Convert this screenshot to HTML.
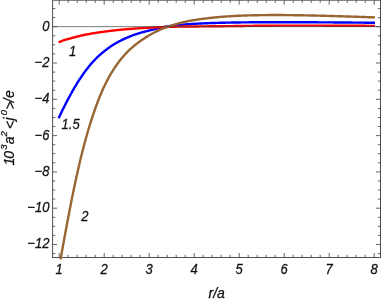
<!DOCTYPE html>
<html><head><meta charset="utf-8"><title>plot</title>
<style>
html,body{margin:0;padding:0;background:#fff;}
body{width:382px;height:300px;overflow:hidden;}
svg{display:block;will-change:transform;}
text{font-family:"Liberation Sans",sans-serif;font-style:italic;fill:#111;stroke:#111;stroke-width:0.25px;}
</style></head><body>
<svg width="382" height="300" viewBox="0 0 382 300">
<rect width="382" height="300" fill="#fff"/>
<path d="M59.2,257.5 v-4.5 M59.2,0.2 v4.5 M68.2,257.5 v-2.7 M68.2,0.2 v2.7 M77.2,257.5 v-2.7 M77.2,0.2 v2.7 M86.2,257.5 v-2.7 M86.2,0.2 v2.7 M95.2,257.5 v-2.7 M95.2,0.2 v2.7 M104.2,257.5 v-4.5 M104.2,0.2 v4.5 M113.2,257.5 v-2.7 M113.2,0.2 v2.7 M122.2,257.5 v-2.7 M122.2,0.2 v2.7 M131.2,257.5 v-2.7 M131.2,0.2 v2.7 M140.2,257.5 v-2.7 M140.2,0.2 v2.7 M149.2,257.5 v-4.5 M149.2,0.2 v4.5 M158.2,257.5 v-2.7 M158.2,0.2 v2.7 M167.2,257.5 v-2.7 M167.2,0.2 v2.7 M176.2,257.5 v-2.7 M176.2,0.2 v2.7 M185.2,257.5 v-2.7 M185.2,0.2 v2.7 M194.2,257.5 v-4.5 M194.2,0.2 v4.5 M203.2,257.5 v-2.7 M203.2,0.2 v2.7 M212.2,257.5 v-2.7 M212.2,0.2 v2.7 M221.2,257.5 v-2.7 M221.2,0.2 v2.7 M230.2,257.5 v-2.7 M230.2,0.2 v2.7 M239.2,257.5 v-4.5 M239.2,0.2 v4.5 M248.2,257.5 v-2.7 M248.2,0.2 v2.7 M257.2,257.5 v-2.7 M257.2,0.2 v2.7 M266.2,257.5 v-2.7 M266.2,0.2 v2.7 M275.2,257.5 v-2.7 M275.2,0.2 v2.7 M284.2,257.5 v-4.5 M284.2,0.2 v4.5 M293.2,257.5 v-2.7 M293.2,0.2 v2.7 M302.2,257.5 v-2.7 M302.2,0.2 v2.7 M311.2,257.5 v-2.7 M311.2,0.2 v2.7 M320.2,257.5 v-2.7 M320.2,0.2 v2.7 M329.2,257.5 v-4.5 M329.2,0.2 v4.5 M338.2,257.5 v-2.7 M338.2,0.2 v2.7 M347.2,257.5 v-2.7 M347.2,0.2 v2.7 M356.2,257.5 v-2.7 M356.2,0.2 v2.7 M365.2,257.5 v-2.7 M365.2,0.2 v2.7 M374.2,257.5 v-4.5 M374.2,0.2 v4.5 M52.6,8.6 h2.7 M380.5,8.6 h-2.7 M52.6,17.6 h2.7 M380.5,17.6 h-2.7 M52.6,26.7 h4.5 M380.5,26.7 h-4.5 M52.6,35.8 h2.7 M380.5,35.8 h-2.7 M52.6,44.8 h2.7 M380.5,44.8 h-2.7 M52.6,53.9 h2.7 M380.5,53.9 h-2.7 M52.6,63.0 h4.5 M380.5,63.0 h-4.5 M52.6,72.1 h2.7 M380.5,72.1 h-2.7 M52.6,81.1 h2.7 M380.5,81.1 h-2.7 M52.6,90.2 h2.7 M380.5,90.2 h-2.7 M52.6,99.3 h4.5 M380.5,99.3 h-4.5 M52.6,108.4 h2.7 M380.5,108.4 h-2.7 M52.6,117.5 h2.7 M380.5,117.5 h-2.7 M52.6,126.5 h2.7 M380.5,126.5 h-2.7 M52.6,135.6 h4.5 M380.5,135.6 h-4.5 M52.6,144.7 h2.7 M380.5,144.7 h-2.7 M52.6,153.7 h2.7 M380.5,153.7 h-2.7 M52.6,162.8 h2.7 M380.5,162.8 h-2.7 M52.6,171.9 h4.5 M380.5,171.9 h-4.5 M52.6,181.0 h2.7 M380.5,181.0 h-2.7 M52.6,190.0 h2.7 M380.5,190.0 h-2.7 M52.6,199.1 h2.7 M380.5,199.1 h-2.7 M52.6,208.2 h4.5 M380.5,208.2 h-4.5 M52.6,217.3 h2.7 M380.5,217.3 h-2.7 M52.6,226.3 h2.7 M380.5,226.3 h-2.7 M52.6,235.4 h2.7 M380.5,235.4 h-2.7 M52.6,244.5 h4.5 M380.5,244.5 h-4.5 M52.6,253.6 h2.7 M380.5,253.6 h-2.7" stroke="#666" stroke-width="1" fill="none"/>
<rect x="52.6" y="0.2" width="327.9" height="257.3" fill="none" stroke="#505050" stroke-width="1"/>
<g fill="none" stroke-linejoin="round" stroke-linecap="butt" stroke-width="2.4">
<path d="M58.60,118.31 L59.39,116.59 L60.19,114.90 L60.98,113.23 L61.77,111.58 L62.56,109.96 L63.36,108.35 L64.15,106.77 L64.94,105.21 L65.74,103.67 L66.53,102.15 L67.32,100.64 L68.12,99.15 L68.91,97.67 L69.70,96.20 L70.49,94.74 L71.29,93.29 L72.08,91.86 L72.87,90.45 L73.67,89.07 L74.46,87.70 L75.25,86.36 L76.05,85.03 L76.84,83.73 L77.63,82.45 L78.42,81.19 L79.22,79.95 L80.01,78.73 L80.80,77.54 L81.60,76.36 L82.39,75.21 L83.18,74.08 L83.98,72.96 L84.77,71.87 L85.56,70.80 L86.35,69.74 L87.15,68.71 L87.94,67.70 L88.73,66.70 L89.53,65.73 L90.32,64.78 L91.11,63.86 L91.91,62.95 L92.70,62.07 L93.49,61.21 L94.28,60.38 L95.08,59.56 L95.87,58.75 L96.66,57.97 L97.46,57.20 L98.25,56.45 L99.04,55.71 L99.84,54.98 L100.63,54.27 L101.42,53.58 L102.21,52.90 L103.01,52.23 L103.80,51.58 L104.59,50.95 L105.39,50.32 L106.18,49.72 L106.97,49.12 L107.76,48.54 L108.56,47.97 L109.35,47.41 L110.14,46.86 L110.94,46.33 L111.73,45.80 L112.52,45.29 L113.32,44.78 L114.11,44.29 L114.90,43.81 L115.69,43.33 L116.49,42.87 L117.28,42.42 L118.07,41.98 L118.87,41.55 L119.66,41.13 L120.45,40.72 L121.25,40.32 L122.04,39.93 L122.83,39.55 L123.62,39.18 L124.42,38.82 L125.21,38.46 L126.00,38.11 L126.80,37.77 L127.59,37.43 L128.38,37.10 L129.18,36.77 L129.97,36.45 L130.76,36.13 L131.55,35.81 L132.35,35.50 L133.14,35.20 L133.93,34.91 L134.73,34.62 L135.52,34.34 L136.31,34.07 L137.11,33.81 L137.90,33.55 L138.69,33.31 L139.48,33.07 L140.28,32.84 L141.07,32.62 L141.86,32.41 L142.66,32.20 L143.45,31.99 L144.24,31.79 L145.04,31.59 L145.83,31.39 L146.62,31.19 L147.41,30.99 L148.21,30.78 L149.00,30.58 L149.79,30.37 L150.59,30.16 L151.38,29.96 L152.17,29.76 L152.96,29.56 L153.76,29.36 L154.55,29.17 L155.34,28.97 L156.14,28.78 L156.93,28.59 L157.72,28.40 L158.52,28.22 L159.31,28.04 L160.10,27.87 L160.89,27.70 L161.69,27.54 L162.48,27.37 L163.27,27.21 L164.07,27.06 L164.86,26.90 L165.65,26.75 L166.45,26.61 L167.24,26.47 L168.03,26.34 L168.82,26.22 L169.62,26.10 L170.41,25.99 L171.20,25.89 L172.00,25.78 L172.79,25.68 L173.58,25.59 L174.38,25.49 L175.17,25.40 L175.96,25.31 L176.75,25.22 L177.55,25.13 L178.34,25.05 L179.13,24.97 L179.93,24.89 L180.72,24.82 L181.51,24.75 L182.31,24.68 L183.10,24.61 L183.89,24.54 L184.68,24.48 L185.48,24.42 L186.27,24.36 L187.06,24.30 L187.86,24.25 L188.65,24.19 L189.44,24.14 L190.24,24.09 L191.03,24.04 L191.82,23.99 L192.61,23.94 L193.41,23.89 L194.20,23.84 L194.99,23.80 L195.79,23.75 L196.58,23.71 L197.37,23.67 L198.16,23.63 L198.96,23.59 L199.75,23.55 L200.54,23.51 L201.34,23.47 L202.13,23.44 L202.92,23.40 L203.72,23.37 L204.51,23.33 L205.30,23.30 L206.09,23.27 L206.89,23.23 L207.68,23.20 L208.47,23.17 L209.27,23.14 L210.06,23.12 L210.85,23.09 L211.65,23.06 L212.44,23.03 L213.23,23.01 L214.02,22.98 L214.82,22.96 L215.61,22.93 L216.40,22.91 L217.20,22.89 L217.99,22.86 L218.78,22.84 L219.58,22.82 L220.37,22.80 L221.16,22.78 L221.95,22.76 L222.75,22.74 L223.54,22.72 L224.33,22.70 L225.13,22.69 L225.92,22.67 L226.71,22.65 L227.51,22.64 L228.30,22.62 L229.09,22.61 L229.88,22.59 L230.68,22.58 L231.47,22.56 L232.26,22.55 L233.06,22.53 L233.85,22.52 L234.64,22.51 L235.44,22.49 L236.23,22.48 L237.02,22.47 L237.81,22.46 L238.61,22.45 L239.40,22.44 L240.19,22.43 L240.99,22.42 L241.78,22.41 L242.57,22.40 L243.36,22.39 L244.16,22.38 L244.95,22.37 L245.74,22.36 L246.54,22.35 L247.33,22.35 L248.12,22.34 L248.92,22.33 L249.71,22.32 L250.50,22.32 L251.29,22.31 L252.09,22.30 L252.88,22.30 L253.67,22.29 L254.47,22.29 L255.26,22.28 L256.05,22.28 L256.85,22.27 L257.64,22.27 L258.43,22.26 L259.22,22.26 L260.02,22.25 L260.81,22.25 L261.60,22.25 L262.40,22.24 L263.19,22.24 L263.98,22.24 L264.78,22.23 L265.57,22.23 L266.36,22.23 L267.15,22.22 L267.95,22.22 L268.74,22.22 L269.53,22.22 L270.33,22.22 L271.12,22.21 L271.91,22.21 L272.71,22.21 L273.50,22.21 L274.29,22.21 L275.08,22.21 L275.88,22.21 L276.67,22.21 L277.46,22.21 L278.26,22.21 L279.05,22.21 L279.84,22.21 L280.64,22.21 L281.43,22.21 L282.22,22.21 L283.01,22.21 L283.81,22.21 L284.60,22.21 L285.39,22.21 L286.19,22.21 L286.98,22.21 L287.77,22.21 L288.56,22.21 L289.36,22.22 L290.15,22.22 L290.94,22.22 L291.74,22.22 L292.53,22.22 L293.32,22.22 L294.12,22.23 L294.91,22.23 L295.70,22.23 L296.49,22.23 L297.29,22.23 L298.08,22.24 L298.87,22.24 L299.67,22.24 L300.46,22.25 L301.25,22.25 L302.05,22.25 L302.84,22.25 L303.63,22.26 L304.42,22.26 L305.22,22.26 L306.01,22.27 L306.80,22.27 L307.60,22.27 L308.39,22.28 L309.18,22.28 L309.98,22.29 L310.77,22.29 L311.56,22.29 L312.35,22.30 L313.15,22.30 L313.94,22.31 L314.73,22.31 L315.53,22.31 L316.32,22.32 L317.11,22.32 L317.91,22.33 L318.70,22.33 L319.49,22.34 L320.28,22.34 L321.08,22.35 L321.87,22.35 L322.66,22.36 L323.46,22.36 L324.25,22.37 L325.04,22.37 L325.84,22.38 L326.63,22.38 L327.42,22.39 L328.21,22.39 L329.01,22.40 L329.80,22.40 L330.59,22.41 L331.39,22.41 L332.18,22.42 L332.97,22.42 L333.76,22.43 L334.56,22.43 L335.35,22.44 L336.14,22.45 L336.94,22.45 L337.73,22.46 L338.52,22.46 L339.32,22.47 L340.11,22.48 L340.90,22.48 L341.69,22.49 L342.49,22.49 L343.28,22.50 L344.07,22.51 L344.87,22.51 L345.66,22.52 L346.45,22.53 L347.25,22.53 L348.04,22.54 L348.83,22.54 L349.62,22.55 L350.42,22.56 L351.21,22.56 L352.00,22.57 L352.80,22.58 L353.59,22.58 L354.38,22.59 L355.18,22.60 L355.97,22.60 L356.76,22.61 L357.55,22.62 L358.35,22.62 L359.14,22.63 L359.93,22.64 L360.73,22.65 L361.52,22.65 L362.31,22.66 L363.11,22.67 L363.90,22.67 L364.69,22.68 L365.48,22.69 L366.28,22.69 L367.07,22.70 L367.86,22.71 L368.66,22.72 L369.45,22.72 L370.24,22.73 L371.04,22.74 L371.83,22.75 L372.62,22.75 L373.41,22.76 L374.21,22.77 L375.00,22.77" stroke="#0000ff"/>
<path d="M58.60,42.40 L59.39,42.02 L60.19,41.66 L60.98,41.33 L61.77,41.02 L62.56,40.72 L63.36,40.45 L64.15,40.18 L64.94,39.93 L65.74,39.69 L66.53,39.46 L67.32,39.23 L68.12,39.01 L68.91,38.80 L69.70,38.58 L70.49,38.37 L71.29,38.15 L72.08,37.94 L72.87,37.72 L73.67,37.51 L74.46,37.30 L75.25,37.09 L76.05,36.88 L76.84,36.67 L77.63,36.46 L78.42,36.26 L79.22,36.06 L80.01,35.86 L80.80,35.67 L81.60,35.49 L82.39,35.30 L83.18,35.13 L83.98,34.96 L84.77,34.80 L85.56,34.64 L86.35,34.50 L87.15,34.35 L87.94,34.21 L88.73,34.07 L89.53,33.93 L90.32,33.79 L91.11,33.66 L91.91,33.53 L92.70,33.39 L93.49,33.26 L94.28,33.14 L95.08,33.01 L95.87,32.88 L96.66,32.76 L97.46,32.64 L98.25,32.52 L99.04,32.40 L99.84,32.28 L100.63,32.17 L101.42,32.05 L102.21,31.94 L103.01,31.83 L103.80,31.72 L104.59,31.61 L105.39,31.51 L106.18,31.40 L106.97,31.30 L107.76,31.20 L108.56,31.10 L109.35,31.00 L110.14,30.90 L110.94,30.81 L111.73,30.71 L112.52,30.62 L113.32,30.53 L114.11,30.44 L114.90,30.35 L115.69,30.26 L116.49,30.18 L117.28,30.09 L118.07,30.01 L118.87,29.93 L119.66,29.85 L120.45,29.77 L121.25,29.69 L122.04,29.62 L122.83,29.54 L123.62,29.47 L124.42,29.40 L125.21,29.33 L126.00,29.26 L126.80,29.19 L127.59,29.12 L128.38,29.06 L129.18,28.99 L129.97,28.93 L130.76,28.86 L131.55,28.80 L132.35,28.74 L133.14,28.68 L133.93,28.63 L134.73,28.57 L135.52,28.51 L136.31,28.46 L137.11,28.41 L137.90,28.35 L138.69,28.30 L139.48,28.25 L140.28,28.20 L141.07,28.15 L141.86,28.10 L142.66,28.06 L143.45,28.01 L144.24,27.96 L145.04,27.92 L145.83,27.88 L146.62,27.83 L147.41,27.79 L148.21,27.75 L149.00,27.71 L149.79,27.67 L150.59,27.63 L151.38,27.59 L152.17,27.56 L152.96,27.52 L153.76,27.48 L154.55,27.44 L155.34,27.41 L156.14,27.37 L156.93,27.34 L157.72,27.30 L158.52,27.27 L159.31,27.23 L160.10,27.20 L160.89,27.17 L161.69,27.13 L162.48,27.10 L163.27,27.07 L164.07,27.04 L164.86,27.01 L165.65,26.98 L166.45,26.95 L167.24,26.93 L168.03,26.90 L168.82,26.88 L169.62,26.85 L170.41,26.83 L171.20,26.80 L172.00,26.78 L172.79,26.76 L173.58,26.74 L174.38,26.72 L175.17,26.70 L175.96,26.69 L176.75,26.67 L177.55,26.65 L178.34,26.64 L179.13,26.62 L179.93,26.60 L180.72,26.59 L181.51,26.58 L182.31,26.56 L183.10,26.55 L183.89,26.54 L184.68,26.52 L185.48,26.51 L186.27,26.50 L187.06,26.49 L187.86,26.49 L188.65,26.48 L189.44,26.48 L190.24,26.47 L191.03,26.47 L191.82,26.47 L192.61,26.47 L193.41,26.46 L194.20,26.46 L194.99,26.46 L195.79,26.46 L196.58,26.45 L197.37,26.45 L198.16,26.44 L198.96,26.43 L199.75,26.42 L200.54,26.41 L201.34,26.40 L202.13,26.39 L202.92,26.38 L203.72,26.37 L204.51,26.36 L205.30,26.35 L206.09,26.34 L206.89,26.33 L207.68,26.33 L208.47,26.32 L209.27,26.31 L210.06,26.30 L210.85,26.29 L211.65,26.29 L212.44,26.28 L213.23,26.27 L214.02,26.26 L214.82,26.26 L215.61,26.25 L216.40,26.24 L217.20,26.24 L217.99,26.23 L218.78,26.22 L219.58,26.22 L220.37,26.21 L221.16,26.21 L221.95,26.20 L222.75,26.19 L223.54,26.18 L224.33,26.18 L225.13,26.17 L225.92,26.16 L226.71,26.15 L227.51,26.14 L228.30,26.14 L229.09,26.13 L229.88,26.12 L230.68,26.11 L231.47,26.10 L232.26,26.09 L233.06,26.08 L233.85,26.07 L234.64,26.06 L235.44,26.05 L236.23,26.04 L237.02,26.03 L237.81,26.02 L238.61,26.01 L239.40,26.00 L240.19,25.99 L240.99,25.98 L241.78,25.96 L242.57,25.95 L243.36,25.94 L244.16,25.93 L244.95,25.92 L245.74,25.91 L246.54,25.90 L247.33,25.89 L248.12,25.88 L248.92,25.87 L249.71,25.87 L250.50,25.86 L251.29,25.85 L252.09,25.84 L252.88,25.83 L253.67,25.82 L254.47,25.81 L255.26,25.81 L256.05,25.80 L256.85,25.79 L257.64,25.79 L258.43,25.78 L259.22,25.77 L260.02,25.77 L260.81,25.76 L261.60,25.76 L262.40,25.75 L263.19,25.75 L263.98,25.74 L264.78,25.74 L265.57,25.73 L266.36,25.73 L267.15,25.72 L267.95,25.71 L268.74,25.71 L269.53,25.70 L270.33,25.70 L271.12,25.69 L271.91,25.69 L272.71,25.68 L273.50,25.68 L274.29,25.67 L275.08,25.67 L275.88,25.67 L276.67,25.66 L277.46,25.66 L278.26,25.65 L279.05,25.65 L279.84,25.64 L280.64,25.64 L281.43,25.64 L282.22,25.63 L283.01,25.63 L283.81,25.63 L284.60,25.62 L285.39,25.62 L286.19,25.62 L286.98,25.62 L287.77,25.61 L288.56,25.61 L289.36,25.61 L290.15,25.61 L290.94,25.61 L291.74,25.61 L292.53,25.60 L293.32,25.60 L294.12,25.60 L294.91,25.60 L295.70,25.60 L296.49,25.60 L297.29,25.60 L298.08,25.61 L298.87,25.61 L299.67,25.61 L300.46,25.61 L301.25,25.61 L302.05,25.61 L302.84,25.62 L303.63,25.62 L304.42,25.62 L305.22,25.62 L306.01,25.62 L306.80,25.63 L307.60,25.63 L308.39,25.63 L309.18,25.63 L309.98,25.63 L310.77,25.64 L311.56,25.64 L312.35,25.64 L313.15,25.64 L313.94,25.65 L314.73,25.65 L315.53,25.65 L316.32,25.65 L317.11,25.65 L317.91,25.66 L318.70,25.66 L319.49,25.66 L320.28,25.66 L321.08,25.67 L321.87,25.67 L322.66,25.67 L323.46,25.67 L324.25,25.68 L325.04,25.68 L325.84,25.68 L326.63,25.68 L327.42,25.69 L328.21,25.69 L329.01,25.69 L329.80,25.70 L330.59,25.70 L331.39,25.70 L332.18,25.70 L332.97,25.71 L333.76,25.71 L334.56,25.71 L335.35,25.71 L336.14,25.72 L336.94,25.72 L337.73,25.72 L338.52,25.73 L339.32,25.73 L340.11,25.73 L340.90,25.73 L341.69,25.74 L342.49,25.74 L343.28,25.74 L344.07,25.75 L344.87,25.75 L345.66,25.75 L346.45,25.75 L347.25,25.76 L348.04,25.76 L348.83,25.76 L349.62,25.77 L350.42,25.77 L351.21,25.77 L352.00,25.77 L352.80,25.78 L353.59,25.78 L354.38,25.78 L355.18,25.79 L355.97,25.79 L356.76,25.79 L357.55,25.79 L358.35,25.80 L359.14,25.80 L359.93,25.80 L360.73,25.81 L361.52,25.81 L362.31,25.81 L363.11,25.82 L363.90,25.82 L364.69,25.82 L365.48,25.82 L366.28,25.83 L367.07,25.83 L367.86,25.83 L368.66,25.84 L369.45,25.84 L370.24,25.84 L371.04,25.85 L371.83,25.85 L372.62,25.85 L373.41,25.85 L374.21,25.86 L375.00,25.86" stroke="#ff0000"/>
<path d="M60.54,259.40 L60.98,256.98 L61.77,252.60 L62.56,248.21 L63.36,243.83 L64.15,239.48 L64.94,235.14 L65.74,230.83 L66.53,226.55 L67.32,222.31 L68.12,218.10 L68.91,213.94 L69.70,209.83 L70.49,205.76 L71.29,201.75 L72.08,197.78 L72.87,193.88 L73.67,190.02 L74.46,186.23 L75.25,182.49 L76.05,178.82 L76.84,175.20 L77.63,171.65 L78.42,168.15 L79.22,164.72 L80.01,161.35 L80.80,158.05 L81.60,154.81 L82.39,151.64 L83.18,148.54 L83.98,145.50 L84.77,142.52 L85.56,139.60 L86.35,136.75 L87.15,133.95 L87.94,131.21 L88.73,128.53 L89.53,125.91 L90.32,123.33 L91.11,120.81 L91.91,118.34 L92.70,115.92 L93.49,113.55 L94.28,111.24 L95.08,108.98 L95.87,106.76 L96.66,104.60 L97.46,102.49 L98.25,100.43 L99.04,98.42 L99.84,96.45 L100.63,94.54 L101.42,92.67 L102.21,90.84 L103.01,89.06 L103.80,87.33 L104.59,85.64 L105.39,83.99 L106.18,82.40 L106.97,80.85 L107.76,79.34 L108.56,77.87 L109.35,76.45 L110.14,75.06 L110.94,73.71 L111.73,72.39 L112.52,71.10 L113.32,69.85 L114.11,68.63 L114.90,67.44 L115.69,66.27 L116.49,65.13 L117.28,64.01 L118.07,62.92 L118.87,61.86 L119.66,60.82 L120.45,59.81 L121.25,58.82 L122.04,57.86 L122.83,56.92 L123.62,56.00 L124.42,55.10 L125.21,54.23 L126.00,53.38 L126.80,52.55 L127.59,51.75 L128.38,50.96 L129.18,50.20 L129.97,49.45 L130.76,48.73 L131.55,48.02 L132.35,47.33 L133.14,46.66 L133.93,46.00 L134.73,45.35 L135.52,44.71 L136.31,44.08 L137.11,43.46 L137.90,42.85 L138.69,42.25 L139.48,41.67 L140.28,41.09 L141.07,40.53 L141.86,39.97 L142.66,39.43 L143.45,38.90 L144.24,38.38 L145.04,37.87 L145.83,37.37 L146.62,36.88 L147.41,36.40 L148.21,35.92 L149.00,35.44 L149.79,34.98 L150.59,34.52 L151.38,34.07 L152.17,33.64 L152.96,33.21 L153.76,32.79 L154.55,32.38 L155.34,31.98 L156.14,31.59 L156.93,31.20 L157.72,30.83 L158.52,30.46 L159.31,30.10 L160.10,29.75 L160.89,29.41 L161.69,29.08 L162.48,28.75 L163.27,28.44 L164.07,28.13 L164.86,27.82 L165.65,27.52 L166.45,27.23 L167.24,26.94 L168.03,26.66 L168.82,26.38 L169.62,26.11 L170.41,25.84 L171.20,25.58 L172.00,25.32 L172.79,25.06 L173.58,24.82 L174.38,24.58 L175.17,24.34 L175.96,24.11 L176.75,23.89 L177.55,23.67 L178.34,23.46 L179.13,23.25 L179.93,23.04 L180.72,22.84 L181.51,22.65 L182.31,22.45 L183.10,22.27 L183.89,22.08 L184.68,21.90 L185.48,21.73 L186.27,21.56 L187.06,21.39 L187.86,21.23 L188.65,21.07 L189.44,20.92 L190.24,20.77 L191.03,20.63 L191.82,20.49 L192.61,20.35 L193.41,20.22 L194.20,20.09 L194.99,19.96 L195.79,19.83 L196.58,19.71 L197.37,19.59 L198.16,19.47 L198.96,19.35 L199.75,19.24 L200.54,19.13 L201.34,19.02 L202.13,18.92 L202.92,18.81 L203.72,18.71 L204.51,18.61 L205.30,18.51 L206.09,18.42 L206.89,18.32 L207.68,18.23 L208.47,18.14 L209.27,18.05 L210.06,17.96 L210.85,17.88 L211.65,17.79 L212.44,17.71 L213.23,17.63 L214.02,17.55 L214.82,17.47 L215.61,17.39 L216.40,17.31 L217.20,17.24 L217.99,17.16 L218.78,17.09 L219.58,17.02 L220.37,16.95 L221.16,16.88 L221.95,16.82 L222.75,16.75 L223.54,16.69 L224.33,16.63 L225.13,16.56 L225.92,16.50 L226.71,16.45 L227.51,16.39 L228.30,16.33 L229.09,16.28 L229.88,16.23 L230.68,16.18 L231.47,16.13 L232.26,16.08 L233.06,16.03 L233.85,15.99 L234.64,15.95 L235.44,15.90 L236.23,15.86 L237.02,15.82 L237.81,15.79 L238.61,15.75 L239.40,15.72 L240.19,15.68 L240.99,15.65 L241.78,15.62 L242.57,15.59 L243.36,15.56 L244.16,15.54 L244.95,15.51 L245.74,15.48 L246.54,15.46 L247.33,15.43 L248.12,15.41 L248.92,15.39 L249.71,15.37 L250.50,15.35 L251.29,15.33 L252.09,15.31 L252.88,15.29 L253.67,15.27 L254.47,15.25 L255.26,15.24 L256.05,15.22 L256.85,15.21 L257.64,15.19 L258.43,15.18 L259.22,15.17 L260.02,15.15 L260.81,15.14 L261.60,15.13 L262.40,15.12 L263.19,15.11 L263.98,15.10 L264.78,15.10 L265.57,15.09 L266.36,15.08 L267.15,15.08 L267.95,15.07 L268.74,15.07 L269.53,15.06 L270.33,15.06 L271.12,15.05 L271.91,15.05 L272.71,15.05 L273.50,15.05 L274.29,15.05 L275.08,15.05 L275.88,15.05 L276.67,15.05 L277.46,15.05 L278.26,15.05 L279.05,15.05 L279.84,15.05 L280.64,15.06 L281.43,15.06 L282.22,15.07 L283.01,15.07 L283.81,15.07 L284.60,15.08 L285.39,15.09 L286.19,15.09 L286.98,15.10 L287.77,15.11 L288.56,15.11 L289.36,15.12 L290.15,15.13 L290.94,15.14 L291.74,15.15 L292.53,15.16 L293.32,15.17 L294.12,15.18 L294.91,15.19 L295.70,15.20 L296.49,15.21 L297.29,15.22 L298.08,15.23 L298.87,15.25 L299.67,15.26 L300.46,15.27 L301.25,15.28 L302.05,15.30 L302.84,15.31 L303.63,15.33 L304.42,15.34 L305.22,15.36 L306.01,15.37 L306.80,15.39 L307.60,15.40 L308.39,15.42 L309.18,15.43 L309.98,15.45 L310.77,15.47 L311.56,15.48 L312.35,15.50 L313.15,15.52 L313.94,15.54 L314.73,15.56 L315.53,15.57 L316.32,15.59 L317.11,15.61 L317.91,15.63 L318.70,15.65 L319.49,15.67 L320.28,15.69 L321.08,15.71 L321.87,15.73 L322.66,15.75 L323.46,15.77 L324.25,15.79 L325.04,15.81 L325.84,15.83 L326.63,15.85 L327.42,15.88 L328.21,15.90 L329.01,15.92 L329.80,15.94 L330.59,15.96 L331.39,15.99 L332.18,16.01 L332.97,16.03 L333.76,16.06 L334.56,16.08 L335.35,16.10 L336.14,16.13 L336.94,16.15 L337.73,16.17 L338.52,16.20 L339.32,16.22 L340.11,16.24 L340.90,16.27 L341.69,16.29 L342.49,16.32 L343.28,16.34 L344.07,16.37 L344.87,16.39 L345.66,16.42 L346.45,16.44 L347.25,16.47 L348.04,16.49 L348.83,16.52 L349.62,16.54 L350.42,16.57 L351.21,16.60 L352.00,16.62 L352.80,16.65 L353.59,16.67 L354.38,16.70 L355.18,16.73 L355.97,16.75 L356.76,16.78 L357.55,16.81 L358.35,16.83 L359.14,16.86 L359.93,16.89 L360.73,16.91 L361.52,16.94 L362.31,16.97 L363.11,16.99 L363.90,17.02 L364.69,17.05 L365.48,17.07 L366.28,17.10 L367.07,17.13 L367.86,17.16 L368.66,17.18 L369.45,17.21 L370.24,17.24 L371.04,17.27 L371.83,17.29 L372.62,17.32 L373.41,17.35 L374.21,17.38 L375.00,17.41" stroke="#996633"/>
</g>
<path d="M52.6,26.65 H380.5" stroke="#444" stroke-opacity="0.7" stroke-width="1" fill="none"/>
<g font-size="13"><text transform="translate(59.2,273.5) scale(1,1.055)" text-anchor="middle">1</text><text transform="translate(104.2,273.5) scale(1,1.055)" text-anchor="middle">2</text><text transform="translate(149.2,273.5) scale(1,1.055)" text-anchor="middle">3</text><text transform="translate(194.2,273.5) scale(1,1.055)" text-anchor="middle">4</text><text transform="translate(239.2,273.5) scale(1,1.055)" text-anchor="middle">5</text><text transform="translate(284.2,273.5) scale(1,1.055)" text-anchor="middle">6</text><text transform="translate(329.2,273.5) scale(1,1.055)" text-anchor="middle">7</text><text transform="translate(374.2,273.5) scale(1,1.055)" text-anchor="middle">8</text><text transform="translate(49.4,30.6) scale(1,1.055)" text-anchor="end">0</text><text transform="translate(49.4,67.0) scale(1,1.055)" text-anchor="end">−2</text><text transform="translate(49.4,103.2) scale(1,1.055)" text-anchor="end">−4</text><text transform="translate(49.4,139.5) scale(1,1.055)" text-anchor="end">−6</text><text transform="translate(49.4,175.8) scale(1,1.055)" text-anchor="end">−8</text><text transform="translate(49.4,212.1) scale(1,1.055)" text-anchor="end">−10</text><text transform="translate(49.4,248.4) scale(1,1.055)" text-anchor="end">−12</text>
<text transform="translate(69.0,55.5) scale(1,1.055)">1</text>
<text transform="translate(61.6,128.5) scale(1,1.055)">1.5</text>
<text transform="translate(81.3,221.1) scale(1,1.055)">2</text>
</g>
<text x="208.5" y="298.0" font-size="14">r/a</text>
<g transform="translate(13.8,165.05) rotate(-90)" font-size="14">
<text x="-0.5" y="0">1</text><text x="6.4" y="0">0</text><text x="15.25" y="-6.5" font-size="9.5">3</text>
<text x="20.9" y="0">a</text><text x="28.5" y="-6.5" font-size="9.5">2</text>
<text x="35.95" y="0.9">&lt;</text><text x="44.6" y="0">j</text><text x="49.75" y="-6.5" font-size="9.5">0</text>
<text x="55.5" y="0.9">&gt;</text><text x="62.7" y="0">/</text><text x="67.15" y="0">e</text>
</g>
</svg>
</body></html>
